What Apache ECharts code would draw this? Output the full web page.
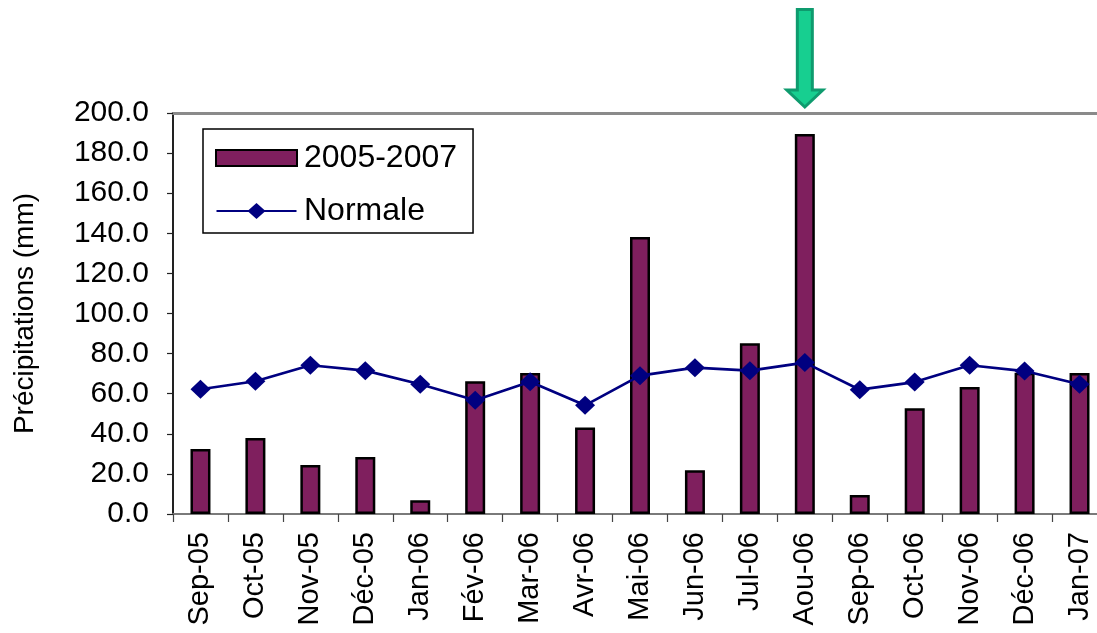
<!DOCTYPE html>
<html>
<head>
<meta charset="utf-8">
<script src="https://cdn.jsdelivr.net/npm/echarts@6/dist/echarts.min.js"></script>
<style>
  html, body { margin: 0; padding: 0; background: #fff; }
  #chart { width: 1097px; height: 633px; }
</style>
</head>
<body>
<div id="chart"></div>
<script>
// Monthly precipitation, Sep 2005 – Jan 2007, against the normal
const months = ['Sep-05', 'Oct-05', 'Nov-05', 'Déc-05', 'Jan-06', 'Fév-06', 'Mar-06', 'Avr-06',
  'Mai-06', 'Jun-06', 'Jul-06', 'Aou-06', 'Sep-06', 'Oct-06', 'Nov-06', 'Déc-06', 'Jan-07'];
const observed = [32.4, 37.9, 24.4, 28.4, 6.8, 66.2, 70.3, 43.2,
  138.2, 21.8, 85.1, 189.5, 9.5, 52.7, 63.3, 70.5, 70.3];
const normal = [62.2, 66.2, 74.2, 71.5, 64.7, 56.7, 66.0, 54.2,
  69.0, 73.0, 71.5, 75.5, 62.0, 65.8, 74.2, 71.3, 64.7];
const yTicks = { min: 0, max: 200, step: 20 };
const highlightMonth = 'Aou-06';

const FONT = '"Liberation Sans", Arial, sans-serif';
// Legend icon for the normal: a thin line with a diamond in the middle
const LINE_DIAMOND_ICON = 'path://M0 7H80V9H0Z M31 8L40 0L49 8L40 16Z';

const chart = echarts.init(document.getElementById('chart'));

chart.setOption({
  animation: false,
  backgroundColor: '#ffffff',
  textStyle: { fontFamily: FONT, color: '#000' },
  // the plot runs slightly past the right edge of the canvas
  grid: { left: 173, width: 934, top: 113, bottom: 119, containLabel: false, outerBoundsMode: 'none' },
  legend: {
    orient: 'vertical',
    left: 203,
    top: 129,
    padding: [13, 16, 6, 12],
    itemGap: 21,
    itemWidth: 81,
    itemHeight: 16,
    backgroundColor: '#fff',
    borderColor: '#000',
    borderWidth: 1.5,
    textStyle: { fontFamily: FONT, fontSize: 32, color: '#000', lineHeight: 30, padding: [0, 0, 0, 2] },
    data: [
      { name: '2005-2007', icon: 'rect' },
      { name: 'Normale', icon: LINE_DIAMOND_ICON }
    ]
  },
  xAxis: [
    {
      type: 'category',
      data: months,
      boundaryGap: true,
      axisLine: { show: true, lineStyle: { color: '#7a7a7a', width: 2 } },
      axisTick: { show: true, length: 8, lineStyle: { color: '#444', width: 1.2 } },
      axisLabel: { rotate: 90, margin: 18, fontSize: 29, color: '#000', fontFamily: FONT, interval: 0 },
      splitLine: { show: false }
    },
    {
      type: 'category',
      position: 'top',
      data: months,
      axisLine: { show: true, lineStyle: { color: '#8a8a8a', width: 3 } },
      axisTick: { show: false },
      axisLabel: { show: false },
      splitLine: { show: false }
    }
  ],
  yAxis: {
    type: 'value',
    min: yTicks.min,
    max: yTicks.max,
    interval: yTicks.step,
    name: 'Précipitations (mm)',
    nameLocation: 'middle',
    nameGap: 134,
    nameRotate: 90,
    nameTextStyle: { fontFamily: FONT, fontSize: 28, color: '#000' },
    axisLine: { show: true, lineStyle: { color: '#222', width: 2 } },
    axisTick: { show: true, length: 6, lineStyle: { color: '#222', width: 1.2 } },
    axisLabel: {
      margin: 24,
      fontSize: 30,
      color: '#000',
      fontFamily: FONT,
      formatter: v => v.toFixed(1)
    },
    splitLine: { show: false }
  },
  series: [
    {
      name: '2005-2007',
      type: 'bar',
      data: observed,
      barWidth: 20,
      itemStyle: { color: '#7f1f5e', borderColor: '#000', borderWidth: 2.5 },
      z: 2
    },
    {
      name: 'Normale',
      type: 'line',
      data: normal,
      symbol: 'diamond',
      symbolSize: [20, 19],
      lineStyle: { color: '#000080', width: 2.7 },
      itemStyle: { color: '#000080' },
      z: 3
    }
  ]
});

// Downward arrow above the highlighted month
const cx = chart.convertToPixel({ xAxisIndex: 0 }, highlightMonth);
chart.setOption({
  graphic: [{
    type: 'polygon',
    shape: {
      points: [
        [cx - 7.5, 9.5], [cx + 7.5, 9.5], [cx + 7.5, 90], [cx + 18, 90],
        [cx, 107], [cx - 18, 90], [cx - 7.5, 90]
      ]
    },
    style: { fill: '#17cf90', stroke: '#0e9b6e', lineWidth: 3, lineJoin: 'miter' },
    z: 10
  }]
});
</script>
</body>
</html>
